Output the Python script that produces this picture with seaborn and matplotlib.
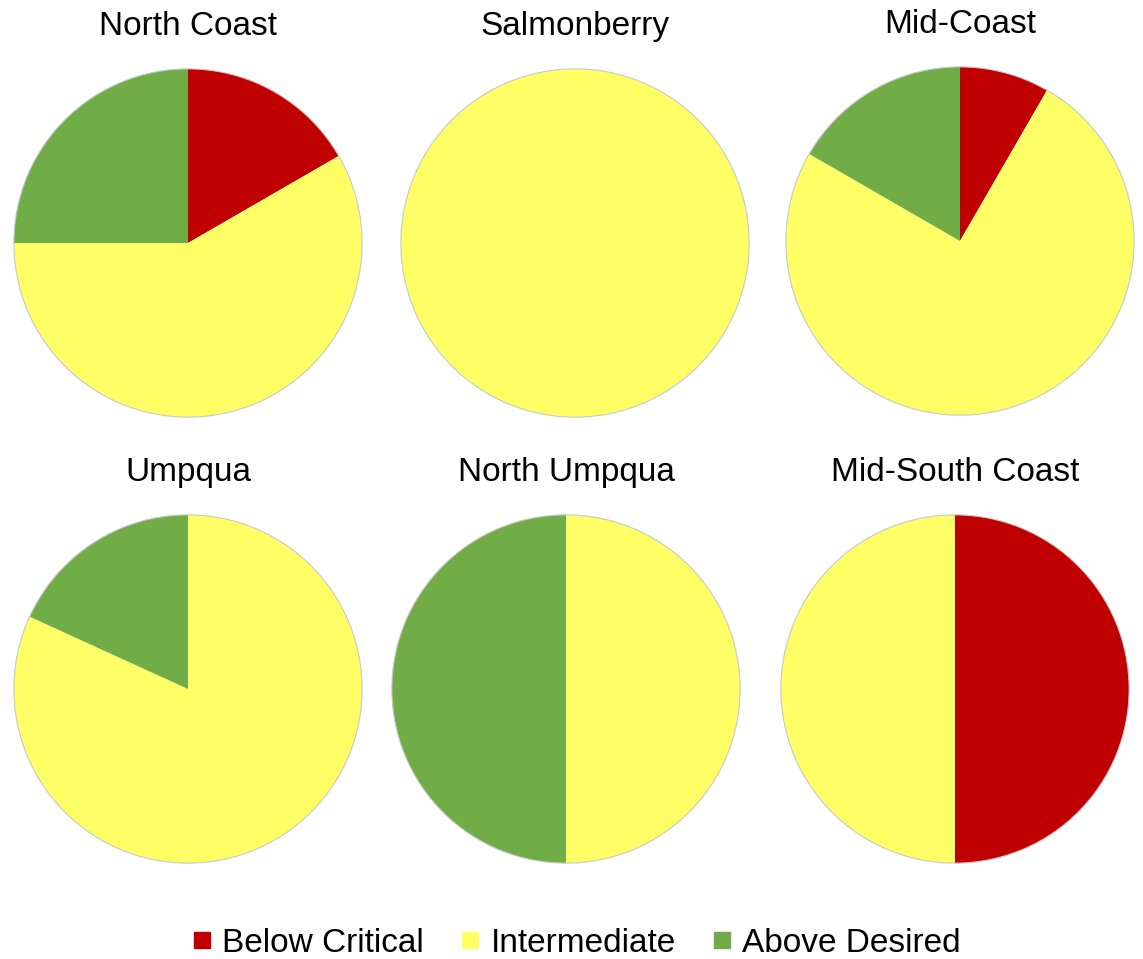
import matplotlib
matplotlib.use("Agg")
import matplotlib.pyplot as plt
from matplotlib.lines import Line2D
import seaborn as sns

# data (shares of each status per area)
areas = ["North Coast", "Salmonberry", "Mid-Coast", "Umpqua", "North Umpqua", "Mid-South Coast"]
statuses = ["Below Critical", "Intermediate", "Above Desired"]
below_critical = [2, 0, 1, 0, 0, 1]
intermediate = [7, 1, 9, 9, 1, 1]
above_desired = [3, 0, 2, 2, 1, 0]

colors = ["#C00000", "#FFFF66", "#70AD47"]

sns.set_theme(style="white")
plt.rcParams["font.family"] = ["Liberation Sans", "DejaVu Sans"]

W, H = 1143, 959
fig = plt.figure(figsize=(W / 100, H / 100), dpi=100)
fig.patch.set_facecolor("white")

centers = [(188, 243), (575, 243), (960, 241), (188, 689), (566, 689), (955, 689)]
r = 175

for i, name in enumerate(areas):
    cx, cy = centers[i]
    ax = fig.add_axes([(cx - r) / W, 1 - (cy + r) / H, 2 * r / W, 2 * r / H])
    vals = [below_critical[i], intermediate[i], above_desired[i]]
    keep = [(v, c) for v, c in zip(vals, colors) if v > 0]
    ax.pie([v for v, _ in keep], colors=[c for _, c in keep], startangle=90,
           counterclock=False, wedgeprops=dict(linewidth=0))
    # faint outline like the original
    ax.add_patch(plt.Circle((0, 0), 1, fill=False, edgecolor="#c8c8c8", linewidth=0.8))
    ax.set_xlim(-1.005, 1.005)
    ax.set_ylim(-1.005, 1.005)
    ax.set_aspect("equal")
    ax.set_title(name, fontsize=24, pad=24, color="black")

handles = [Line2D([0], [0], marker="s", linestyle="", markersize=12,
                  markerfacecolor=c, markeredgecolor=c) for c in colors]
fig.legend(handles, statuses, loc="center", bbox_to_anchor=(0.5, 1 - 943 / H),
           ncol=3, fontsize=24, frameon=False, handletextpad=0.0,
           columnspacing=0.8, handlelength=1.2, labelcolor="black")

fig.savefig("out.png", dpi=100)
